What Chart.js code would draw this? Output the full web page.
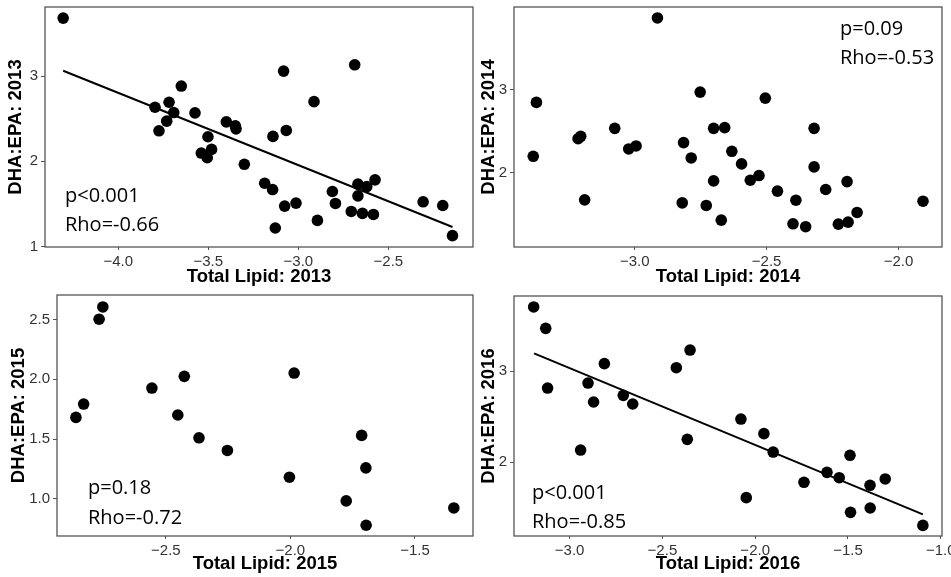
<!DOCTYPE html>
<html>
<head>
<meta charset="utf-8">
<script src="https://cdn.jsdelivr.net/npm/chart.js@4.4.0/dist/chart.umd.min.js"></script>
<style>
  body { margin: 0; background: #fff; }
  #wrap { position: relative; width: 951px; height: 577px; overflow: hidden; }
  canvas { position: absolute; }
</style>
</head>
<body>
<div id="wrap">
  <canvas id="c2013" width="475" height="288" style="left:0;top:0"></canvas>
  <canvas id="c2014" width="476" height="288" style="left:475px;top:0"></canvas>
  <canvas id="c2015" width="475" height="289" style="left:0;top:288px"></canvas>
  <canvas id="c2016" width="476" height="289" style="left:475px;top:288px"></canvas>
</div>
<script>
// values
const lipid2013 = [-4.306, -3.796, -3.774, -3.731, -3.718, -3.692, -3.65, -3.574, -3.502, -3.539, -3.506, -3.482, -3.4, -3.35, -3.346, -3.3, -3.187, -3.143, -3.141, -3.082, -3.067, -3.076, -3.128, -3.013, -2.913, -2.894, -2.811, -2.794, -2.706, -2.687, -2.669, -2.669, -2.644, -2.62, -2.583, -2.574, -2.307, -2.198, -2.144];
const ratio2013 = [3.68, 2.634, 2.358, 2.471, 2.693, 2.572, 2.883, 2.568, 2.288, 2.097, 2.043, 2.14, 2.463, 2.416, 2.381, 1.965, 1.743, 1.669, 2.292, 3.058, 2.362, 1.475, 1.218, 1.51, 2.7, 1.307, 1.646, 1.506, 1.412, 3.132, 1.732, 1.595, 1.389, 1.704, 1.377, 1.782, 1.525, 1.482, 1.128];
const fitX2013 = [-4.306, -2.144];
const fitY2013 = [3.062, 1.23];
const stats2013 = ["p<0.001", "Rho=-0.66"];

const lipid2014 = [-2.914, -3.373, -3.385, -3.215, -3.205, -3.19, -3.076, -3.023, -2.995, -2.815, -2.82, -2.786, -2.752, -2.729, -2.701, -2.701, -2.659, -2.672, -2.632, -2.595, -2.562, -2.529, -2.505, -2.459, -2.4, -2.389, -2.352, -2.32, -2.32, -2.276, -2.228, -2.195, -2.191, -2.157, -1.907];
const ratio2014 = [3.857, 2.845, 2.199, 2.41, 2.438, 1.677, 2.534, 2.287, 2.323, 2.363, 1.641, 2.179, 2.968, 1.61, 2.534, 1.904, 2.542, 1.434, 2.259, 2.108, 1.912, 1.968, 2.896, 1.781, 1.39, 1.673, 1.355, 2.534, 2.072, 1.801, 1.386, 1.896, 1.41, 1.526, 1.661];
const stats2014 = ["p=0.09", "Rho=-0.53"];

const lipid2015 = [-2.861, -2.83, -2.768, -2.753, -2.556, -2.452, -2.426, -2.367, -2.253, -2.004, -1.985, -1.776, -1.714, -1.697, -1.696, -1.344];
const ratio2015 = [1.681, 1.793, 2.504, 2.607, 1.927, 1.701, 2.025, 1.51, 1.404, 1.18, 2.053, 0.981, 1.53, 1.258, 0.777, 0.922];
const stats2015 = ["p=0.18", "Rho=-0.72"];

const lipid2016 = [-3.194, -3.129, -3.119, -2.941, -2.901, -2.871, -2.813, -2.711, -2.66, -2.425, -2.351, -2.366, -2.077, -2.048, -1.953, -1.903, -1.737, -1.613, -1.547, -1.489, -1.486, -1.381, -1.38, -1.299, -1.096];
const ratio2016 = [3.71, 3.474, 2.816, 2.132, 2.871, 2.662, 3.085, 2.735, 2.64, 3.04, 3.235, 2.25, 2.474, 1.607, 2.313, 2.11, 1.776, 1.886, 1.827, 2.074, 1.445, 1.743, 1.493, 1.813, 1.301];
const fitX2016 = [-3.192, -1.096];
const fitY2016 = [3.199, 1.423];
const stats2016 = ["p<0.001", "Rho=-0.85"];

Chart.defaults.font.family = "'Liberation Sans', Arial, sans-serif";

function pts(xs, ys) {
  return xs.map((x, i) => ({ x: x, y: ys[i] }));
}

function fmt(dec) {
  return (v) => Number(v).toFixed(dec).replace("-", "\u2212");
}

// draw the panel frame
const boxPlugin = {
  id: "box",
  afterDraw(chart) {
    const a = chart.chartArea;
    const ctx = chart.ctx;
    ctx.save();
    ctx.strokeStyle = "#555";
    ctx.lineWidth = 1.3;
    ctx.strokeRect(a.left, a.top, a.right - a.left, a.bottom - a.top);
    ctx.restore();
  }
};

function statsPlugin(lines, x, y0, y1) {
  return {
    id: "stats",
    afterDraw(chart) {
      const ctx = chart.ctx;
      ctx.save();
      ctx.font = "20px 'Open Sans', sans-serif";
      ctx.fillStyle = "#000";
      ctx.textAlign = "left";
      ctx.textBaseline = "alphabetic";
      ctx.fillText(lines[0], x, y0);
      ctx.fillText(lines[1], x, y1);
      ctx.restore();
    }
  };
}

function makePanel(id, p) {
  const datasets = [{
    type: "scatter",
    data: pts(p.xs, p.ys),
    backgroundColor: "#000",
    borderWidth: 0,
    pointRadius: 5.8,
    pointHoverRadius: 5.8
  }];
  if (p.fitX) {
    datasets.push({
      type: "line",
      data: pts(p.fitX, p.fitY),
      borderColor: "#000",
      borderWidth: 2,
      pointRadius: 0,
      fill: false
    });
  }
  new Chart(document.getElementById(id), {
    type: "scatter",
    data: { datasets: datasets },
    options: {
      responsive: false,
      animation: false,
      layout: { autoPadding: false, padding: { left: 0, top: p.padTop, right: p.padRight, bottom: 0 } },
      plugins: { legend: { display: false }, tooltip: { enabled: false } },
      scales: {
        x: {
          type: "linear",
          min: p.xMin,
          max: p.xMax,
          border: { display: false },
          grid: { drawOnChartArea: false, tickLength: 3, color: "#555" },
          ticks: {
            stepSize: 0.5, includeBounds: false, autoSkip: false, maxRotation: 0,
            padding: 3, color: "#333", font: { size: 15 }, callback: fmt(1)
          },
          title: {
            display: true, text: p.xTitle, color: "#000",
            font: { size: 18.5, weight: "bold" }, padding: { top: 0, bottom: p.xTitlePad }
          },
          afterFit(s) {
            s.height = p.xH;
            s.paddingLeft = 0;
            s.paddingRight = 0;
          }
        },
        y: {
          type: "linear",
          min: p.yMin,
          max: p.yMax,
          border: { display: false },
          grid: { drawOnChartArea: false, tickLength: 4, color: "#555" },
          ticks: {
            stepSize: p.yStep, includeBounds: false, autoSkip: false,
            padding: 3, color: "#333", font: { size: 15 }, callback: fmt(p.yDec)
          },
          title: {
            display: true, text: p.yTitle, color: "#000",
            font: { size: 18.5, weight: "bold" }, padding: { top: p.yTitlePad, bottom: 0 }
          },
          afterFit(s) {
            s.width = p.yW;
            s.paddingTop = 0;
            s.paddingBottom = 0;
          }
        }
      }
    },
    plugins: [boxPlugin, statsPlugin(p.stats, p.sx, p.sy0, p.sy1)]
  });
}

makePanel("c2013", {
  xs: lipid2013, ys: ratio2013, fitX: fitX2013, fitY: fitY2013, stats: stats2013,
  xMin: -4.407, xMax: -2.03, yMin: 0.995, yMax: 3.81, yStep: 1, yDec: 0,
  xTitle: "Total Lipid: 2013", yTitle: "DHA:EPA: 2013",
  yW: 45, xH: 41, padTop: 7, padRight: 2, xTitlePad: 0, yTitlePad: 5,
  sx: 65, sy0: 202, sy1: 231
});

makePanel("c2014", {
  xs: lipid2014, ys: ratio2014, stats: stats2014,
  xMin: -3.458, xMax: -1.835, yMin: 1.112, yMax: 3.988, yStep: 1, yDec: 0,
  xTitle: "Total Lipid: 2014", yTitle: "DHA:EPA: 2014",
  yW: 39, xH: 41, padTop: 7, padRight: 9, xTitlePad: 0, yTitlePad: 3,
  sx: 365, sy0: 35, sy1: 64
});

makePanel("c2015", {
  xs: lipid2015, ys: ratio2015, stats: stats2015,
  xMin: -2.937, xMax: -1.267, yMin: 0.687, yMax: 2.707, yStep: 0.5, yDec: 1,
  xTitle: "Total Lipid: 2015", yTitle: "DHA:EPA: 2015",
  yW: 57, xH: 41, padTop: 7, padRight: 2, xTitlePad: 2, yTitlePad: 8,
  sx: 88, sy0: 206, sy1: 236
});

makePanel("c2016", {
  xs: lipid2016, ys: ratio2016, fitX: fitX2016, fitY: fitY2016, stats: stats2016,
  xMin: -3.3, xMax: -0.993, yMin: 1.184, yMax: 3.831, yStep: 1, yDec: 0,
  xTitle: "Total Lipid: 2016", yTitle: "DHA:EPA: 2016",
  yW: 39, xH: 41, padTop: 8, padRight: 9, xTitlePad: 2, yTitlePad: 3,
  sx: 57, sy0: 211, sy1: 240
});
</script>
</body>
</html>
